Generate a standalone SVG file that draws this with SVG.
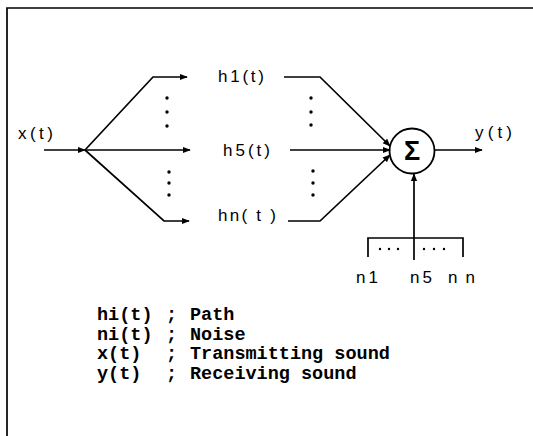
<svg xmlns="http://www.w3.org/2000/svg" width="533" height="436" viewBox="0 0 533 436">
<defs>
<marker id="ah" viewBox="0 0 10 10" refX="9" refY="5" markerWidth="8" markerHeight="8" markerUnits="userSpaceOnUse" orient="auto">
<path d="M0 1 L10 5 L0 9 Z" fill="#000"/>
</marker>
</defs>
<style>
.ln{fill:none;stroke:#000;stroke-width:1.7}
.lbl{font-family:"Liberation Sans",Arial,sans-serif;font-size:17px;fill:#000}
.leg{font-family:"Liberation Mono","Courier New",monospace;font-size:18.5px;font-weight:bold;fill:#000}
.dot{fill:#000}
</style>
<rect width="533" height="436" fill="#fff"/>
<g id="frame">
<path class="ln" d="M7 436 V8 H533" stroke-width="2"/>
</g>
<g id="connectors">
<path class="ln" d="M44 150 H85" marker-end="url(#ah)"/>
<path class="ln" d="M85 150 L153 77 H187" marker-end="url(#ah)"/>
<path class="ln" d="M85 150 H190" marker-end="url(#ah)"/>
<path class="ln" d="M85 150 L164 221 H189" marker-end="url(#ah)"/>
<path class="ln" d="M284 77 H320 L390 146" marker-end="url(#ah)"/>
<path class="ln" d="M290 150 H390" marker-end="url(#ah)"/>
<path class="ln" d="M288 221 H320 L390 155" marker-end="url(#ah)"/>
<path class="ln" d="M435 150 H482" marker-end="url(#ah)"/>
<path class="ln" d="M414 260 V174" marker-end="url(#ah)"/>
</g>
<g id="dots-left">
<circle class="dot" cx="167" cy="98" r="1.7"/>
<circle class="dot" cx="167" cy="112" r="1.7"/>
<circle class="dot" cx="167" cy="126" r="1.7"/>
<circle class="dot" cx="169" cy="172" r="1.7"/>
<circle class="dot" cx="169" cy="183" r="1.7"/>
<circle class="dot" cx="169" cy="195" r="1.7"/>
</g>
<g id="dots-right">
<circle class="dot" cx="311" cy="98" r="1.7"/>
<circle class="dot" cx="311" cy="112" r="1.7"/>
<circle class="dot" cx="311" cy="125" r="1.7"/>
<circle class="dot" cx="313" cy="171" r="1.7"/>
<circle class="dot" cx="313" cy="183" r="1.7"/>
<circle class="dot" cx="313" cy="195" r="1.7"/>
</g>
<g id="input">
<text class="lbl" x="18" y="139" textLength="35" lengthAdjust="spacing">x(t)</text>
</g>
<g id="h1">
<text class="lbl" x="218" y="82" textLength="46" lengthAdjust="spacing">h1(t)</text>
</g>
<g id="h5">
<text class="lbl" x="223" y="156" textLength="47" lengthAdjust="spacing">h5(t)</text>
</g>
<g id="hn">
<text class="lbl" x="218" y="221" textLength="58" lengthAdjust="spacing">hn( t )</text>
</g>
<g id="sum">
<circle cx="412" cy="151" r="22.5" fill="none" stroke="#000" stroke-width="1.8"/>
<text x="412" y="160" text-anchor="middle" style="font-family:'Liberation Sans',Arial,sans-serif;font-size:27px;font-weight:bold;fill:#000">Σ</text>
</g>
<g id="output">
<text class="lbl" x="475" y="138" textLength="37" lengthAdjust="spacing">y(t)</text>
</g>
<g id="noise">
<path class="ln" d="M368 257 V238 H463 V257"/>
<circle class="dot" cx="380" cy="249" r="1.2"/>
<circle class="dot" cx="389" cy="249" r="1.2"/>
<circle class="dot" cx="398" cy="249" r="1.2"/>
<circle class="dot" cx="424" cy="249" r="1.2"/>
<circle class="dot" cx="434" cy="249" r="1.2"/>
<circle class="dot" cx="444" cy="249" r="1.2"/>
<text class="lbl" x="356" y="283" textLength="22" lengthAdjust="spacing">n1</text>
<text class="lbl" x="410" y="283" textLength="22" lengthAdjust="spacing">n5</text>
<text class="lbl" x="448" y="283" textLength="27" lengthAdjust="spacing">nn</text>
</g>
<g id="legend">
<text class="leg" x="97" y="320">hi(t)</text>
<text class="leg" x="166" y="320">;</text>
<text class="leg" x="190" y="320">Path</text>
<text class="leg" x="97" y="340">ni(t)</text>
<text class="leg" x="166" y="340">;</text>
<text class="leg" x="190" y="340">Noise</text>
<text class="leg" x="97" y="359">x(t)</text>
<text class="leg" x="166" y="359">;</text>
<text class="leg" x="190" y="359">Transmitting sound</text>
<text class="leg" x="97" y="379">y(t)</text>
<text class="leg" x="166" y="379">;</text>
<text class="leg" x="190" y="379">Receiving sound</text>
</g>
</svg>
